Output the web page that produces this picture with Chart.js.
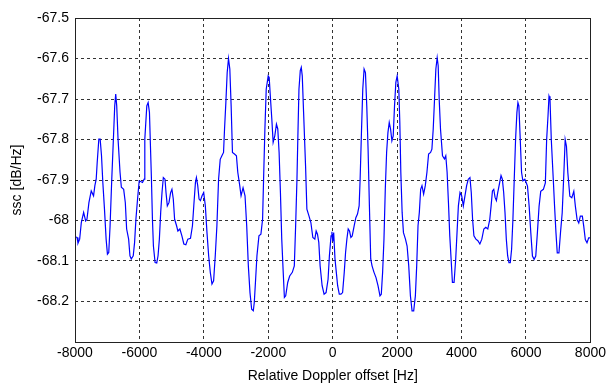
<!DOCTYPE html>
<html>
<head>
<meta charset="utf-8">
<script src="https://cdn.jsdelivr.net/npm/chart.js@4.4.1/dist/chart.umd.min.js"></script>
<style>
  html, body { margin: 0; padding: 0; background: #fff; }
  #wrap { width: 609px; height: 387px; }
</style>
</head>
<body>
<div id="wrap"><canvas id="ssc" width="609" height="387"></canvas></div>
<script>
// relative Doppler offset [Hz]
const freqHz = [
  -8000, -7937, -7907, -7855, -7804, -7732, -7670, -7629, -7568, -7496,
  -7424, -7383, -7342, -7311, -7260, -7219, -7177, -7136, -7085, -7034,
  -6993, -6952, -6911, -6859, -6808, -6767, -6736, -6705, -6664, -6602,
  -6561, -6489, -6438, -6397, -6335, -6294, -6253, -6192, -6150, -6109,
  -6058, -6007, -5905, -5853, -5833, -5802, -5771, -5730, -5689, -5658,
  -5627, -5596, -5566, -5514, -5463, -5422, -5381, -5340, -5299, -5258,
  -5206, -5175, -5134, -5083, -5032, -4991, -4949, -4908, -4847, -4806,
  -4744, -4682, -4621, -4559, -4498, -4415, -4354, -4313, -4261, -4231,
  -4190, -4149, -4107, -4056, -4005, -3954, -3903, -3851, -3800, -3748,
  -3697, -3646, -3595, -3543, -3492, -3440, -3389, -3358, -3317, -3276,
  -3235, -3194, -3153, -3112, -3050, -2989, -2947, -2886, -2845, -2783,
  -2722, -2670, -2619, -2568, -2516, -2465, -2434, -2393, -2352, -2290,
  -2229, -2177, -2146, -2105, -2064, -2003, -1972, -1931, -1890, -1849,
  -1798, -1747, -1705, -1664, -1623, -1582, -1541, -1500, -1459, -1397,
  -1336, -1254, -1192, -1151, -1110, -1079, -1048, -1007, -976, -945,
  -904, -843, -802, -740, -678, -617, -555, -514, -473, -432,
  -391, -329, -268, -206, -144, -103, -52, -25, 0, 30,
  71, 112, 153, 204, 256, 307, 358, 399, 440, 481,
  522, 564, 605, 666, 718, 769, 820, 851, 892, 933,
  974, 1016, 1057, 1098, 1139, 1180, 1221, 1282, 1344, 1406,
  1467, 1508, 1549, 1591, 1632, 1673, 1714, 1755, 1796, 1837,
  1878, 1919, 1960, 2001, 2052, 2083, 2114, 2155, 2196, 2258,
  2309, 2360, 2412, 2463, 2514, 2566, 2607, 2648, 2689, 2730,
  2771, 2822, 2874, 2925, 2976, 3038, 3079, 3120, 3161, 3202,
  3243, 3274, 3305, 3346, 3408, 3469, 3510, 3551, 3593, 3634,
  3675, 3716, 3767, 3818, 3859, 3901, 3952, 4003, 4054, 4105,
  4157, 4208, 4260, 4301, 4342, 4383, 4444, 4506, 4568, 4629,
  4691, 4752, 4814, 4876, 4917, 4958, 4999, 5040, 5081, 5122,
  5184, 5225, 5266, 5307, 5348, 5389, 5430, 5471, 5512, 5553,
  5594, 5635, 5677, 5718, 5749, 5779, 5821, 5862, 5903, 5964,
  6005, 6046, 6098, 6149, 6200, 6252, 6303, 6354, 6406, 6457,
  6539, 6601, 6641, 6683, 6714, 6745, 6785, 6847, 6887, 6930,
  6970, 7023, 7071, 7124, 7176, 7216, 7256, 7299, 7361, 7422,
  7484, 7533, 7586, 7638, 7687, 7749, 7792, 7841, 7894, 7946,
  8000
];

// ssc [dB/Hz]
const sscDb = [
  -68.040, -68.042, -68.056, -68.046, -68.005, -67.980, -68.001, -67.997, -67.956, -67.927,
  -67.939, -67.914, -67.898, -67.857, -67.799, -67.799, -67.840, -67.906, -67.972, -68.046,
  -68.083, -68.079, -68.013, -67.898, -67.799, -67.717, -67.688, -67.717, -67.799, -67.881,
  -67.918, -67.923, -67.956, -68.021, -68.046, -68.087, -68.095, -68.087, -68.054, -67.997,
  -67.947, -67.902, -67.906, -67.898, -67.799, -67.758, -67.717, -67.709, -67.733, -67.816,
  -67.898, -67.997, -68.063, -68.104, -68.105, -68.087, -68.046, -67.980, -67.931, -67.894,
  -67.898, -67.931, -67.964, -67.956, -67.931, -67.923, -67.947, -67.997, -68.013, -68.026,
  -68.021, -68.038, -68.058, -68.060, -68.046, -68.044, -68.013, -67.964, -67.906, -67.894,
  -67.914, -67.947, -67.951, -67.939, -67.931, -67.964, -68.030, -68.087, -68.128, -68.157,
  -68.149, -68.087, -68.013, -67.898, -67.849, -67.840, -67.832, -67.774, -67.709, -67.635,
  -67.600, -67.626, -67.717, -67.832, -67.836, -67.840, -67.881, -67.914, -67.939, -67.919,
  -67.939, -68.013, -68.112, -68.178, -68.219, -68.223, -68.202, -68.145, -68.087, -68.038,
  -68.034, -67.997, -67.898, -67.774, -67.676, -67.643, -67.647, -67.700, -67.750, -67.807,
  -67.791, -67.762, -67.774, -67.832, -67.931, -68.046, -68.120, -68.190, -68.186, -68.153,
  -68.137, -68.128, -68.112, -68.013, -67.898, -67.783, -67.676, -67.630, -67.622, -67.643,
  -67.733, -67.865, -67.972, -67.988, -68.005, -68.042, -68.046, -68.026, -68.034, -68.054,
  -68.112, -68.161, -68.182, -68.178, -68.145, -68.087, -68.038, -68.028, -68.052, -68.030,
  -68.095, -68.128, -68.161, -68.182, -68.182, -68.178, -68.128, -68.079, -68.046, -68.021,
  -68.026, -68.042, -68.038, -68.013, -67.993, -67.984, -67.964, -67.898, -67.783, -67.676,
  -67.626, -67.635, -67.717, -67.824, -67.964, -68.095, -68.112, -68.128, -68.141, -68.161,
  -68.186, -68.182, -68.128, -68.046, -67.923, -67.832, -67.783, -67.758, -67.774, -67.803,
  -67.791, -67.717, -67.659, -67.643, -67.676, -67.758, -67.881, -67.980, -68.030, -68.046,
  -68.063, -68.112, -68.186, -68.223, -68.223, -68.186, -68.112, -68.013, -67.980, -67.923,
  -67.914, -67.935, -67.914, -67.881, -67.836, -67.832, -67.824, -67.774, -67.700, -67.626,
  -67.598, -67.618, -67.700, -67.774, -67.840, -67.848, -67.840, -67.881, -67.956, -68.038,
  -68.095, -68.153, -68.153, -68.095, -68.030, -67.964, -67.931, -67.939, -67.964, -67.939,
  -67.914, -67.898, -67.894, -67.931, -67.997, -68.038, -68.046, -68.050, -68.058, -68.046,
  -68.021, -68.017, -68.021, -67.997, -67.964, -67.927, -67.923, -67.943, -67.951, -67.931,
  -67.906, -67.889, -67.898, -67.931, -67.980, -68.046, -68.087, -68.104, -68.104, -68.071,
  -67.997, -67.898, -67.799, -67.733, -67.709, -67.717, -67.799, -67.881, -67.902, -67.898,
  -67.906, -67.915, -67.965, -68.030, -68.088, -68.096, -68.088, -68.030, -67.965, -67.928,
  -67.923, -67.907, -67.800, -67.742, -67.693, -67.701, -67.800, -67.899, -67.965, -68.030,
  -68.080, -68.080, -68.030, -67.981, -67.882, -67.800, -67.817, -67.882, -67.940, -67.944,
  -67.928, -67.965, -67.998, -68.006, -67.989, -67.989, -68.014, -68.047, -68.055, -68.043,
  -68.043
];

const xTickValues = [-8000, -6000, -4000, -2000, 0, 2000, 4000, 6000, 8000];
const xTickLabels = ['-8000', '-6000', '-4000', '-2000', '0', '2000', '4000', '6000', '8000'];
const yTickValues = [-68.2, -68.1, -68.0, -67.9, -67.8, -67.7, -67.6, -67.5];
const yTickLabels = ['-68.2', '-68.1', '-68', '-67.9', '-67.8', '-67.7', '-67.6', '-67.5'];

const FONT = { family: '"Liberation Sans", Arial, sans-serif', size: 14 };

// box round the plot area (matlab style)
const axesBox = {
  id: 'axesBox',
  afterDraw(chart) {
    const { ctx, chartArea: a } = chart;
    ctx.save();
    ctx.strokeStyle = '#222';
    ctx.lineWidth = 1;
    ctx.setLineDash([]);
    ctx.strokeRect(Math.round(a.left) + 0.5, Math.round(a.top) + 0.5,
      Math.round(a.right - a.left), Math.round(a.bottom - a.top));
    ctx.restore();
  }
};

const whiteBg = {
  id: 'whiteBg',
  beforeDraw(chart) {
    const { ctx, width, height } = chart;
    ctx.save();
    ctx.fillStyle = '#fff';
    ctx.fillRect(0, 0, width, height);
    ctx.restore();
  }
};

const points = freqHz.map((f, i) => ({ x: f, y: sscDb[i] }));

new Chart(document.getElementById('ssc'), {
  type: 'line',
  data: {
    datasets: [{
      data: points,
      borderColor: '#0000ff',
      borderWidth: 1.2,
      pointRadius: 0,
      tension: 0,
      fill: false
    }]
  },
  options: {
    responsive: false,
    animation: false,
    devicePixelRatio: 1,
    layout: { padding: { top: 18, right: 15, left: 0, bottom: 0 } },
    plugins: { legend: { display: false }, tooltip: { enabled: false } },
    scales: {
      x: {
        type: 'linear',
        min: -8000,
        max: 8000,
        afterBuildTicks: s => { s.ticks = xTickValues.map(v => ({ value: v })); },
        afterFit: s => { s.height = 45; },
        ticks: {
          color: '#000',
          font: FONT,
          padding: 3,
          maxRotation: 0,
          autoSkip: false,
          callback: (v, i) => xTickLabels[i]
        },
        grid: { color: '#333', lineWidth: 1, drawTicks: false },
        border: { display: false, dash: [3, 3] },
        title: {
          display: true,
          text: 'Relative Doppler offset [Hz]',
          color: '#000',
          font: FONT,
          padding: { top: 0, bottom: 2 }
        }
      },
      y: {
        min: -68.3,
        max: -67.5,
        afterBuildTicks: s => { s.ticks = yTickValues.map(v => ({ value: v })); },
        afterFit: s => { s.width = 75; },
        ticks: {
          color: '#000',
          font: FONT,
          padding: 6,
          autoSkip: false,
          callback: (v, i) => yTickLabels[i]
        },
        grid: { color: '#333', lineWidth: 1, drawTicks: false },
        border: { display: false, dash: [3, 3] },
        title: {
          display: true,
          text: 'ssc [dB/Hz]',
          color: '#000',
          font: FONT,
          padding: { top: 9, bottom: 0 }
        }
      }
    }
  },
  plugins: [whiteBg, axesBox]
});
</script>
</body>
</html>
